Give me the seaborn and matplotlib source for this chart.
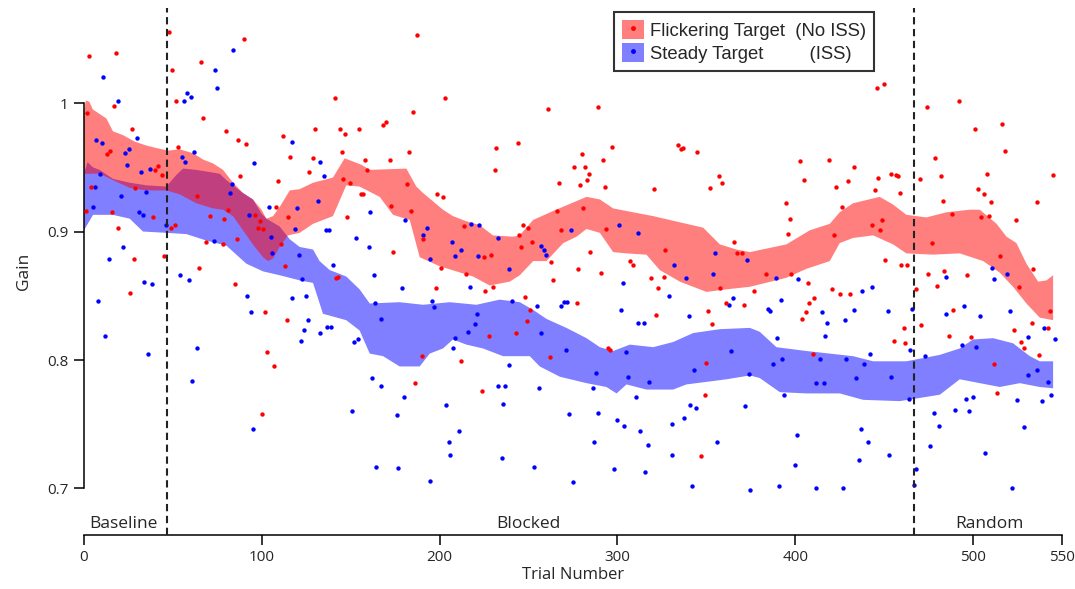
import numpy as np
import pandas as pd
import matplotlib
matplotlib.use("Agg")
import matplotlib.pyplot as plt
from matplotlib.patches import Patch
from matplotlib.lines import Line2D
from matplotlib.legend_handler import HandlerTuple
import seaborn as sns

# ---- data ----
red_trial = [16.9, 52, 1.7, 67, 27, 80, 86.8, 91, 112, 115.9, 126.6, 52.9, 14.8, 13, 41.8, 40, 43.9, 88, 109, 4.1,
             28.9, 63.8, 1, 15.8, 39, 107.8, 115, 80.8, 78.8, 70.9, 96, 99, 98.1, 100.9, 51, 49, 19, 68.8, 78, 85.9,
             110.8, 112.9, 45, 28, 64.9, 25.9, 84.8, 101.8, 114, 103, 106.9, 100,
             2.8, 17.8, 47.8, 49.7, 65.8, 90,
             141, 202.9, 185, 168, 169.9, 129.9, 144, 147, 154.9, 182.8, 144.9, 129, 157.9, 171.9, 159, 145.9, 149.8,
             156, 156.9, 181.9, 172.9, 183.9, 198.7, 201.9, 147.9, 173.8, 190.9, 200.8, 213.7, 214.8, 224.8, 228.9,
             225.7, 229.8, 231.9, 231, 243.9, 246.9, 249.9, 244.8, 246, 141.9, 142.9, 197.8, 247.8, 249, 243, 227.8,
             189.9, 212, 186, 223.9, 187,
             260.8, 288.8, 334, 335.8, 337, 344.8, 279.8, 297, 292, 275.8, 281.8, 283.9, 283, 278.8, 267, 292.9, 320.8,
             357, 358.9, 352, 265.9, 280.9, 268, 293.8, 251.9, 284.8, 262.9, 307, 309, 326.8, 365.8, 367, 370, 277.9,
             291, 319, 325.9, 263.9, 322.9, 357.8, 277, 360.8, 370.9, 250.9, 351, 321.8, 352.9, 294.6, 295.9, 262,
             349.9, 349, 346.8,
             473.8, 491.8, 402.7, 418.9, 432.9, 404.8, 422.8, 429.7, 446.6, 453.9, 456.7, 457.9, 444.7, 458.8, 469.9,
             478.8, 481.8, 482.8, 487.9, 394.9, 396.9, 395.8, 426, 442.9, 448.9, 447.7, 421.9, 476.8, 450.7, 459.7,
             462.7, 383.6, 397.7, 406.9, 474.9, 483.9, 496.8, 479.8, 376.9, 420.9, 424.9, 430.9, 467.8, 410.8, 407.8,
             405.9, 403.9, 488.8, 460.9, 470.8, 486.7, 455.8, 461.8, 409.9, 445.8, 449.8,
             501, 516, 517.9, 507.9, 544.9, 502.9, 505.9, 509.8, 535.9, 504.7, 509, 523.9, 514.9, 533.8, 525.9, 543,
             532.9, 541.9, 522.9, 498.9, 526.7, 528.7, 536.8, 511.9, 513.7]
red_gain = [0.998, 1.002, 0.992, 0.988, 0.980, 0.978, 0.971, 0.968, 0.974, 0.958, 0.946, 0.966, 0.963, 0.960, 0.951,
            0.948, 0.944, 0.943, 0.939, 0.935, 0.934, 0.928, 0.916, 0.915, 0.911, 0.919, 0.911, 0.917, 0.910, 0.912,
            0.913, 0.908, 0.903, 0.902, 0.905, 0.903, 0.903, 0.892, 0.890, 0.894, 0.890, 0.873, 0.881, 0.879, 0.872,
            0.852, 0.859, 0.837, 0.831, 0.806, 0.795, 0.758,
            1.037, 1.039, 1.055, 1.026, 1.032, 1.050,
            1.004, 1.004, 0.993, 0.983, 0.985, 0.980, 0.980, 0.976, 0.980, 0.962, 0.962, 0.957, 0.956, 0.956, 0.948,
            0.941, 0.938, 0.929, 0.929, 0.937, 0.920, 0.916, 0.929, 0.927, 0.911, 0.884, 0.894, 0.872, 0.904, 0.867,
            0.880, 0.882, 0.854, 0.857, 0.965, 0.948, 0.969, 0.905, 0.903, 0.897, 0.888, 0.864, 0.865, 0.856, 0.849,
            0.830, 0.821, 0.819, 0.803, 0.799, 0.782, 0.776, 1.053,
            0.995, 0.997, 0.967, 0.964, 0.965, 0.962, 0.960, 0.966, 0.956, 0.950, 0.950, 0.945, 0.940, 0.936, 0.938,
            0.935, 0.933, 0.943, 0.938, 0.934, 0.916, 0.918, 0.901, 0.902, 0.892, 0.884, 0.876, 0.877, 0.874, 0.886,
            0.892, 0.883, 0.883, 0.871, 0.868, 0.864, 0.865, 0.862, 0.856, 0.856, 0.844, 0.844, 0.843, 0.839, 0.838,
            0.835, 0.828, 0.809, 0.808, 0.802, 0.798, 0.773, 0.725,
            0.997, 1.002, 0.955, 0.956, 0.950, 0.940, 0.935, 0.939, 0.942, 0.945, 0.944, 0.943, 0.932, 0.930, 0.941,
            0.957, 0.943, 0.924, 0.914, 0.922, 0.910, 0.898, 0.919, 0.905, 0.909, 0.901, 0.897, 0.891, 0.878, 0.874,
            0.874, 0.867, 0.867, 0.860, 0.867, 0.869, 0.866, 0.858, 0.854, 0.855, 0.851, 0.851, 0.855, 0.848, 0.844,
            0.837, 0.832, 0.839, 0.825, 0.827, 0.819, 0.815, 0.813, 0.805, 1.012, 1.015,
            0.980, 0.984, 0.963, 0.945, 0.944, 0.933, 0.929, 0.923, 0.923, 0.911, 0.912, 0.909, 0.881, 0.871, 0.857,
            0.838, 0.829, 0.825, 0.823, 0.818, 0.814, 0.809, 0.804, 0.797, 0.774]

blue_trial = [19, 56.1, 58, 60, 7, 10, 29.8, 116.8, 61.9, 25.1, 23.1, 55, 57, 95.8, 24, 37, 31.9, 9, 6, 34.9, 21, 83,
              82, 103.9, 119.8, 4.9, 31, 33, 93, 118.9, 105, 46.1, 73, 22, 106, 121, 14, 122.8, 53.8, 58.9, 34, 38,
              91.9, 94, 117, 124.9, 125.8, 124, 121.9, 7.9, 12, 36, 63.8, 61, 95, 10.9, 73.9, 83.8, 74.8,
              132.9, 134.8, 131.8, 135.9, 138, 153, 160.9, 160, 180.7, 192.7, 190.9, 206.8, 211.9, 208.9, 217.8, 222,
              221.8, 194.8, 232.8, 238.8, 139.9, 162.9, 178.9, 163.9, 166.9, 195.9, 196.9, 216.9, 220.9, 219.9, 215.8,
              240.9, 208.9, 207.7, 132.9, 136.9, 138.9, 151.9, 153.9, 162, 166.9, 179.8, 150.7, 175.9, 203.8, 232.8,
              236.8, 235.9, 238.8,
              164, 176.8, 194.6, 205, 205.9, 210.9, 234.9, 252.9, 274.9, 286.8, 297.9, 315.7, 316.9, 330.7, 330.7,
              341.8, 355.9, 312.7, 303.7,
              274, 300.8, 311.8, 256.9, 258.8, 259.9, 354.9, 331.9, 338.8, 353.8, 372.8, 303, 328.9, 364.9, 362.8,
              269.8, 271.9, 268, 254.9, 301.9, 340, 311.8, 315, 256.9, 271, 304.9, 363.8, 287.8, 305.8, 317.8, 342.8,
              373.7, 255.8, 286, 310.7, 340.9, 343.9, 371.8, 272.8, 289, 337.7, 299.8,
              388.9, 401.8, 437.8, 442.9, 484.9, 391.9, 384.7, 385.9, 414.9, 432.9, 417.9, 427.9, 451.9, 465.7, 484.9,
              495, 416.8, 389.8, 493.9, 464.8, 441.9, 472.9, 392.8, 387.7, 413.8, 428.8, 438.9, 433.9, 453.9, 411.7,
              415.9, 393.9, 463.9, 496.1, 477.9, 489.9, 497.8,
              400.7, 399.7, 374.8, 390.9, 411.7, 426.9, 436.8, 440.8, 435.9, 452.8, 467.8, 466.6, 475.6, 480.7, 506.7,
              521.8, 528.7,
              510.7, 518.8, 511.9, 503.8, 520.9, 539.8, 545.8, 530.8, 501.7, 530.6, 535.7, 541.9, 543.9, 538.9, 524.8,
              499.9]
blue_gain = [1.002, 1.002, 1.008, 1.005, 0.971, 0.969, 0.973, 0.970, 0.962, 0.964, 0.961, 0.958, 0.954, 0.953, 0.952,
             0.949, 0.946, 0.945, 0.935, 0.931, 0.928, 0.937, 0.930, 0.919, 0.918, 0.919, 0.915, 0.913, 0.913, 0.902,
             0.896, 0.905, 0.893, 0.888, 0.883, 0.882, 0.879, 0.863, 0.866, 0.862, 0.861, 0.859, 0.850, 0.837, 0.848,
             0.850, 0.831, 0.823, 0.815, 0.846, 0.819, 0.805, 0.809, 0.784, 0.746, 1.020, 1.026, 1.041, 1.012,
             0.954, 0.943, 0.924, 0.901, 0.901, 0.895, 0.915, 0.888, 0.909, 0.903, 0.897, 0.892, 0.886, 0.881, 0.906,
             0.905, 0.881, 0.879, 0.895, 0.871, 0.874, 0.866, 0.856, 0.844, 0.832, 0.846, 0.841, 0.857, 0.836, 0.828,
             0.822, 0.846, 0.817, 0.809, 0.821, 0.826, 0.826, 0.814, 0.816, 0.786, 0.780, 0.771, 0.760, 0.757, 0.765,
             0.780, 0.780, 0.766, 0.796,
             0.717, 0.716, 0.706, 0.736, 0.726, 0.745, 0.724, 0.717, 0.705, 0.736, 0.715, 0.713, 0.734, 0.726, 0.750,
             0.702, 0.736, 0.745, 0.749,
             0.901, 0.905, 0.899, 0.889, 0.886, 0.882, 0.883, 0.874, 0.864, 0.867, 0.878, 0.860, 0.850, 0.848, 0.843,
             0.845, 0.845, 0.842, 0.842, 0.839, 0.834, 0.829, 0.829, 0.821, 0.808, 0.806, 0.807, 0.790, 0.787, 0.783,
             0.792, 0.789, 0.778, 0.778, 0.771, 0.765, 0.763, 0.764, 0.758, 0.759, 0.755, 0.753,
             0.864, 0.863, 0.854, 0.857, 0.865, 0.847, 0.840, 0.838, 0.837, 0.839, 0.829, 0.831, 0.838, 0.840, 0.836,
             0.842, 0.819, 0.817, 0.812, 0.808, 0.805, 0.803, 0.801, 0.797, 0.801, 0.801, 0.797, 0.786, 0.787, 0.782,
             0.782, 0.773, 0.770, 0.770, 0.759, 0.761, 0.760,
             0.742, 0.718, 0.699, 0.702, 0.700, 0.700, 0.746, 0.736, 0.722, 0.726, 0.715, 0.703, 0.733, 0.749, 0.728,
             0.700, 0.748,
             0.872, 0.867, 0.863, 0.834, 0.838, 0.825, 0.816, 0.818, 0.810, 0.788, 0.792, 0.783, 0.773, 0.768, 0.769,
             0.771]

# moving-window bands (upper / lower edges)
red_hi_t = [0, 1, 3, 5, 12.6, 16.3, 22, 28.5, 35, 40.7, 47.3, 53.8, 61.3, 67, 72.6, 78.2, 83.8, 89.4, 95, 99.8,
            102.6, 106.3, 110, 115.7, 121.3, 128.8, 140, 146.6, 156, 160.7, 181.3, 186.9, 190.7, 201.9, 207.5, 215,
            222.5, 230, 241.3, 245, 252.6, 263.8, 282.6, 290.1, 297.6, 320.1, 348.2, 357.6, 367, 374.5, 395, 408.2,
            419.4, 425, 432.5, 447.5, 455, 462.5, 473.8, 485, 498.2, 503.8, 513.2, 518.8, 524.4, 530, 536.6, 541.3, 545]
red_hi = [0.992, 1.002, 1.001, 0.995, 0.988, 0.978, 0.975, 0.970, 0.967, 0.965, 0.963, 0.964, 0.961, 0.956, 0.953,
          0.948, 0.938, 0.930, 0.925, 0.917, 0.910, 0.912, 0.919, 0.932, 0.933, 0.938, 0.942, 0.957, 0.952, 0.948,
          0.949, 0.935, 0.930, 0.917, 0.912, 0.908, 0.905, 0.897, 0.896, 0.897, 0.909, 0.916, 0.927, 0.925, 0.918,
          0.912, 0.903, 0.890, 0.886, 0.884, 0.890, 0.901, 0.906, 0.915, 0.922, 0.927, 0.921, 0.913, 0.911, 0.915,
          0.917, 0.917, 0.906, 0.896, 0.891, 0.875, 0.861, 0.862, 0.866]
red_lo_t = [0, 8.8, 16.3, 25.7, 35, 46.3, 53.8, 63.2, 72.6, 78.2, 83.8, 89.4, 95, 100.7, 103.5, 106.3, 110, 114.7,
            121.3, 128.8, 140, 147.5, 155, 166.3, 173.8, 183.2, 188.8, 200, 209.4, 218.8, 228.2, 239.4, 245.1, 252.6,
            260.1, 269.5, 277, 282.6, 290.1, 297.6, 305.1, 316.3, 323.8, 335.1, 350.1, 361.3, 374.5, 395, 406.3,
            419.4, 425, 432.5, 443.8, 455, 462.5, 477.5, 492.5, 505.7, 515, 522.5, 530, 537.5, 545]
red_lo = [0.945, 0.945, 0.940, 0.934, 0.932, 0.932, 0.929, 0.922, 0.918, 0.917, 0.912, 0.901, 0.890, 0.880, 0.877,
          0.879, 0.888, 0.897, 0.899, 0.906, 0.912, 0.936, 0.935, 0.927, 0.913, 0.909, 0.880, 0.873, 0.869, 0.865,
          0.858, 0.861, 0.866, 0.877, 0.877, 0.891, 0.896, 0.902, 0.899, 0.884, 0.883, 0.882, 0.870, 0.861, 0.853,
          0.855, 0.857, 0.864, 0.871, 0.877, 0.891, 0.895, 0.897, 0.890, 0.883, 0.882, 0.883, 0.877, 0.868, 0.857,
          0.844, 0.833, 0.831]

blue_hi_t = [0, 2, 5, 8.8, 16.3, 25.7, 35, 46.3, 51.9, 55.7, 63.2, 76.3, 80.1, 83.8, 89.4, 95, 99.8, 102.6, 110,
             115.7, 121.3, 128.8, 132.5, 138.2, 147.5, 155, 160.7, 177.5, 190.7, 205.7, 220.7, 233.8, 245.1, 252.6,
             260.1, 271.3, 282.6, 290.1, 297.6, 307, 320.1, 331.3, 342.6, 357.6, 374.5, 380, 389.4, 406.3, 432.5,
             443.8, 462.5, 470, 481.3, 492.5, 500, 511.3, 522.5, 531.9, 537.5, 545]
blue_hi = [0.945, 0.954, 0.950, 0.948, 0.941, 0.938, 0.936, 0.935, 0.944, 0.949, 0.948, 0.945, 0.940, 0.936, 0.930,
           0.925, 0.914, 0.910, 0.904, 0.894, 0.888, 0.886, 0.877, 0.870, 0.865, 0.855, 0.844, 0.845, 0.843, 0.845,
           0.843, 0.847, 0.845, 0.839, 0.832, 0.825, 0.817, 0.810, 0.807, 0.812, 0.810, 0.814, 0.821, 0.824, 0.825,
           0.822, 0.810, 0.807, 0.803, 0.799, 0.799, 0.801, 0.804, 0.809, 0.816, 0.817, 0.813, 0.803, 0.799, 0.799]
blue_lo_t = [0, 5.1, 16.3, 25.7, 33.2, 46.3, 57.6, 68.8, 80.1, 91.3, 100.7, 110, 121.3, 128.8, 134.4, 147.5, 155,
             160.7, 168.2, 177.5, 188.8, 194.4, 201.9, 207.5, 215, 224.4, 235.7, 250.7, 256.3, 267.6, 282.6, 293.8,
             299.5, 305.1, 316.3, 331.3, 338.8, 350.1, 361.3, 374.5, 380, 391.3, 406.3, 425, 438.2, 458.8, 481.3,
             492.5, 503.8, 515, 526.3, 537.5, 545]
blue_lo = [0.901, 0.913, 0.913, 0.910, 0.900, 0.899, 0.898, 0.893, 0.889, 0.875, 0.869, 0.866, 0.862, 0.860, 0.836,
           0.831, 0.823, 0.805, 0.803, 0.795, 0.795, 0.805, 0.809, 0.816, 0.812, 0.809, 0.803, 0.803, 0.795, 0.787,
           0.782, 0.779, 0.774, 0.781, 0.777, 0.777, 0.781, 0.783, 0.785, 0.788, 0.786, 0.775, 0.774, 0.774, 0.769,
           0.768, 0.773, 0.785, 0.782, 0.779, 0.782, 0.779, 0.778]

block_edges = [46.5, 466.5]
block_names = ["Baseline", "Blocked", "Random"]
block_label_x = [22, 250, 509]
x_ticks = [0, 100, 200, 300, 400, 500, 550]
y_ticks = [0.7, 0.8, 0.9, 1.0]
y_tick_labels = ["0.7", "0.8", "0.9", "1"]

# ---- figure ----
sns.set_style("ticks")
plt.rcParams['font.family'] = ['Open Sans', 'DejaVu Sans']

fig = plt.figure(figsize=(10.75, 5.89), dpi=100)
ax = fig.add_axes([84 / 1075, 54 / 589, 978 / 1075, 527 / 589])

red_fill = '#FF0000'
blue_fill = '#0000FF'

# bands: blue first, red over it
ax.fill(np.r_[blue_hi_t, blue_lo_t[::-1]], np.r_[blue_hi, blue_lo[::-1]],
        color=blue_fill, alpha=0.5, lw=0, zorder=1)
ax.fill(np.r_[red_hi_t, red_lo_t[::-1]], np.r_[red_hi, red_lo[::-1]],
        color=red_fill, alpha=0.5, lw=0, zorder=2)

red_df = pd.DataFrame({"trial": red_trial, "gain": red_gain})
blue_df = pd.DataFrame({"trial": blue_trial, "gain": blue_gain})
sns.scatterplot(data=blue_df, x="trial", y="gain", color="blue", s=10, linewidth=0, ax=ax, zorder=3)
sns.scatterplot(data=red_df, x="trial", y="gain", color="red", s=10, linewidth=0, ax=ax, zorder=3)

for xe in block_edges:
    ax.axvline(xe, color='#222222', lw=1.5, linestyle=(0, (3.5, 2.2)), zorder=4)

ax.set_xlim(0, 550)
ax.set_ylim(0.6638, 1.074)

for name, xl in zip(block_names, block_label_x):
    ax.text(xl, 0.669, name, ha='center', va='baseline', fontsize=12.5)

ax.set_xticks(x_ticks)
ax.set_yticks(y_ticks)
ax.set_yticklabels(y_tick_labels)
ax.tick_params(axis='both', direction='out', length=7, width=1.1, labelsize=11, pad=4, color='black')
ax.spines['top'].set_visible(False)
ax.spines['right'].set_visible(False)
ax.spines['left'].set_bounds(0.7, 1.0)
ax.spines['left'].set_linewidth(1.1)
ax.spines['bottom'].set_linewidth(1.1)
ax.spines['left'].set_color('black')
ax.spines['bottom'].set_color('black')

ax.set_xlabel("Trial Number", fontsize=12, labelpad=1)
ax.set_ylabel("Gain", fontsize=12.5, labelpad=11)

# legend
h_red = (Patch(facecolor=red_fill, alpha=0.5, lw=0),
         Line2D([], [], marker='o', color='red', markersize=2.5, linestyle='none'))
h_blue = (Patch(facecolor=blue_fill, alpha=0.5, lw=0),
          Line2D([], [], marker='o', color='blue', markersize=2.5, linestyle='none'))
leg = ax.legend([h_red, h_blue],
                ["Flickering Target  (No ISS)", "Steady Target         (ISS)"],
                handler_map={tuple: HandlerTuple(ndivide=1)},
                loc='upper right', bbox_to_anchor=(874 / 1075, 1 - 12 / 589),
                bbox_transform=fig.transFigure, borderaxespad=0,
                prop={'family': 'Liberation Sans', 'size': 13.3},
                frameon=True, fancybox=False, edgecolor='black',
                handlelength=1.2, handleheight=1.15, handletextpad=0.3,
                labelspacing=0.2, borderpad=0.45)
leg.get_frame().set_linewidth(1.5)

fig.savefig("out.png", dpi=100)
